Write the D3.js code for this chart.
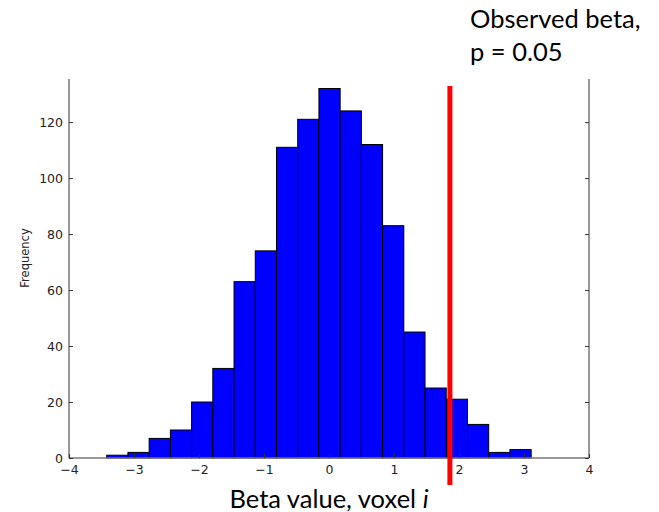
<!DOCTYPE html>
<html lang="en">
<head>
  <meta charset="UTF-8">
  <title>Beta histogram</title>
  <style>
    body { margin: 0; background: #fff; }
    svg { display: block; }
    .tick-label { font-family: "DejaVu Sans", sans-serif; font-size: 12.5px; fill: #222; }
    .ylab { font-family: "DejaVu Sans", sans-serif; font-size: 11.5px; fill: #222; }
    .big { font-family: Lato, "Open Sans", sans-serif; fill: #000; }
  </style>
</head>
<body>
  <svg width="659" height="512"></svg>

  <script src="https://d3js.org/d3.v7.min.js"></script>
  <script>
    // histogram counts, 20 bins
    const counts = [1, 2, 7, 10, 20, 32, 63, 74, 111, 121, 132, 124, 112, 83, 45, 25, 21, 12, 2, 3];
    const binStart = -3.42;
    const binWidth = 0.3265;
    const xTicks = [-4, -3, -2, -1, 0, 1, 2, 3, 4];
    const yTicks = [0, 20, 40, 60, 80, 100, 120];
    const observedBeta = 1.86;
    const noteLines = ["Observed beta,", "p = 0.05"];
    const xLabel = "Beta value, voxel ";
    const yLabel = "Frequency";

    const svg = d3.select("svg");
    const plotLeft = 69, plotRight = 589, plotBottom = 458, plotTop = 79;

    const x = d3.scaleLinear().domain([-4, 4]).range([plotLeft, plotRight]);
    const y = d3.scaleLinear().domain([0, 135.4]).range([plotBottom, plotTop]);

    // bars
    svg.append("g").selectAll("rect")
      .data(counts)
      .join("rect")
      .attr("x", (d, i) => x(binStart + i * binWidth))
      .attr("width", (d, i) => x(binStart + (i + 1) * binWidth) - x(binStart + i * binWidth))
      .attr("y", d => y(d))
      .attr("height", d => y(0) - y(d))
      .attr("fill", "#0000ff")
      .attr("stroke", "#000")
      .attr("stroke-width", 1);

    // spines (no top one, it's cut off in the picture)
    const spine = "#777";
    svg.append("line").attr("x1", plotLeft).attr("x2", plotLeft).attr("y1", plotTop).attr("y2", plotBottom)
      .attr("stroke", spine).attr("stroke-width", 1.5);
    svg.append("line").attr("x1", plotRight).attr("x2", plotRight).attr("y1", plotTop).attr("y2", plotBottom)
      .attr("stroke", spine).attr("stroke-width", 1.5);
    svg.append("line").attr("x1", plotLeft).attr("x2", plotRight).attr("y1", plotBottom).attr("y2", plotBottom)
      .attr("stroke", spine).attr("stroke-width", 1.5);

    // x axis, ticks pointing inward
    const gx = svg.append("g").attr("transform", `translate(0,${plotBottom})`)
      .call(d3.axisBottom(x).tickValues(xTicks).tickSizeInner(-4).tickSizeOuter(0).tickPadding(7)
        .tickFormat(d => d < 0 ? "\u2212" + Math.abs(d) : d));
    gx.select(".domain").remove();
    gx.selectAll(".tick line").attr("stroke", "#333");
    gx.selectAll(".tick text").attr("class", "tick-label").attr("fill", null);
    gx.attr("font-size", null).attr("font-family", null);

    // y axis left
    const gy = svg.append("g").attr("transform", `translate(${plotLeft},0)`)
      .call(d3.axisLeft(y).tickValues(yTicks).tickSizeInner(-4).tickSizeOuter(0).tickPadding(6));
    gy.select(".domain").remove();
    gy.selectAll(".tick line").attr("stroke", "#333");
    gy.selectAll(".tick text").attr("class", "tick-label").attr("fill", null);
    gy.attr("font-size", null).attr("font-family", null);

    // right ticks
    const gr = svg.append("g").attr("transform", `translate(${plotRight},0)`)
      .call(d3.axisRight(y).tickValues(yTicks).tickSizeInner(-4).tickSizeOuter(0).tickFormat(""));
    gr.select(".domain").remove();
    gr.selectAll(".tick line").attr("stroke", "#333");

    // y label
    svg.append("text")
      .attr("class", "ylab")
      .attr("transform", `translate(29,258) rotate(-90)`)
      .attr("text-anchor", "middle")
      .text(yLabel);

    // observed beta line
    svg.append("line")
      .attr("x1", x(observedBeta)).attr("x2", x(observedBeta))
      .attr("y1", 86).attr("y2", 485)
      .attr("stroke", "#ff0000").attr("stroke-width", 5);

    // annotation
    svg.append("g").selectAll("text")
      .data(noteLines)
      .join("text")
      .attr("class", "big")
      .attr("x", 470)
      .attr("y", (d, i) => 28 + i * 33)
      .attr("font-size", 25.5)
      .text(d => d);

    // x label
    const xl = svg.append("text")
      .attr("class", "big")
      .attr("x", 329)
      .attr("y", 508)
      .attr("text-anchor", "middle")
      .attr("font-size", 25.5);
    xl.append("tspan").text(xLabel);
    xl.append("tspan").attr("font-style", "italic").text("i");
  </script>
</body>
</html>
